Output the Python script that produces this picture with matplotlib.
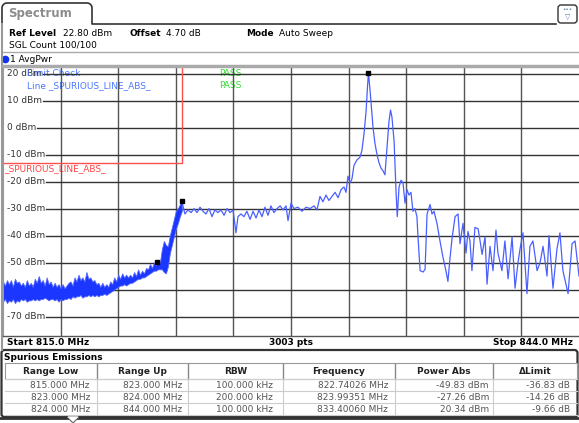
import numpy as np
import matplotlib.pyplot as plt
import matplotlib.transforms as mtransforms
from matplotlib.patches import FancyBboxPatch

# --- data ---
# dense noise part (drawn as a filled band between its lower and upper envelope)
band_f = [815.0, 815.1, 815.2, 815.3, 815.4, 815.5, 815.6, 815.7, 815.8, 815.9,
          816.0, 816.1, 816.2, 816.3, 816.4, 816.5, 816.6, 816.7, 816.8, 816.9,
          817.0, 817.1, 817.2, 817.3, 817.4, 817.5, 817.6, 817.7, 817.8, 817.9,
          818.0, 818.1, 818.2, 818.3, 818.4, 818.5, 818.6, 818.7, 818.8, 818.9,
          819.0, 819.1, 819.2, 819.3, 819.4, 819.5, 819.6, 819.7, 819.8, 819.9,
          820.0, 820.1, 820.2, 820.3, 820.4, 820.5, 820.6, 820.7, 820.8, 820.9,
          821.0, 821.1, 821.2, 821.3, 821.4, 821.5, 821.6, 821.7, 821.8, 821.9,
          822.0, 822.1, 822.2, 822.3, 822.4, 822.5, 822.6, 822.7, 822.8, 822.9,
          823.0, 823.1, 823.2, 823.3, 823.4, 823.5, 823.6, 823.7, 823.8, 823.9, 824.0]
band_hi = [-57, -58.5, -56.5, -58, -56.5, -59, -56, -57.5, -57, -58.5,
           -57.5, -59, -56.5, -58.5, -57.5, -59, -56, -57.5, -55, -57.5,
           -56.5, -58.5, -55.5, -58, -57, -59, -57.5, -59, -58, -59.5,
           -58, -59.5, -58.5, -57.5, -57, -58.5, -55.5, -57, -54.5, -56.5,
           -55.5, -57, -53.5, -56, -55.5, -57, -56.5, -58, -57.5, -59,
           -57.5, -59, -58, -59, -57, -58, -55.5, -57, -54.5, -56,
           -54, -55.5, -54.5, -55.5, -54.5, -55.5, -53.5, -55, -52.5, -54.5,
           -53, -54, -52, -52.5, -50.5, -52, -50, -51, -49, -50,
           -45, -42, -43.5, -44, -40, -37, -34, -31, -30, -28.5, -27.3]
band_lo = [-64.5, -63.5, -65, -64, -64.5, -63.5, -65, -64, -64.5, -63.5,
           -64, -63.5, -64.5, -64, -64, -63.5, -64, -63.5, -64, -63.5,
           -63.5, -63, -63.5, -64, -63.5, -63.5, -64, -63.5, -64.5, -63.5,
           -64, -63.5, -63.5, -63, -63.5, -62.5, -63, -62.5, -62.5, -62,
           -63, -62.5, -62.5, -62, -62.5, -62, -62.5, -62, -62.5, -62,
           -62, -61.5, -62, -61.5, -61, -60.5, -60, -59.5, -59, -58.5,
           -58.5, -58, -58.5, -58, -57.5, -57.5, -57, -56.5, -56, -56,
           -55.5, -55.5, -55, -54.5, -54, -53.5, -53, -53, -52.5, -52.5,
           -52.5, -53.5, -54, -51.5, -46.5, -43.5, -40.5, -37.5, -35.5, -33, -31]

# sparse part of the trace (thin line)
trace_f = [824.01, 824.16, 824.31, 824.47, 824.62, 824.77, 824.92, 825.07, 825.22, 825.37,
           825.52, 825.67, 825.82, 825.98, 826.13, 826.28, 826.43, 826.58, 826.73, 826.83,
           826.98, 827.13, 827.28, 827.44, 827.59, 827.74, 827.89, 828.04, 828.19, 828.34,
           828.49, 828.64, 828.80, 828.95, 829.10, 829.25, 829.35, 829.50, 829.65, 829.85,
           830.05, 830.26, 830.46, 830.66, 830.81, 830.96, 831.11, 831.26, 831.41, 831.56,
           831.72, 831.87, 832.02, 832.17, 832.27, 832.37, 832.47, 832.57, 832.67, 832.82,
           832.97, 833.07, 833.18, 833.28, 833.35, 833.40, 833.50, 833.63, 833.73, 833.83,
           833.93, 834.03, 834.13, 834.23, 834.33, 834.43, 834.51, 834.58, 834.69, 834.79,
           834.85, 834.94, 835.04, 835.14, 835.24, 835.34, 835.44, 835.54, 835.64, 835.74,
           835.84, 835.89, 836.00, 836.15, 836.25, 836.35, 836.50, 836.60, 836.70, 836.85,
           837.00, 837.15, 837.30, 837.40, 837.51, 837.61, 837.76, 837.91, 838.01, 838.16,
           838.31, 838.41, 838.51, 838.61, 838.76, 838.92, 839.02, 839.12, 839.27, 839.37,
           839.52, 839.67, 839.82, 839.92, 840.12, 840.27, 840.43, 840.63, 840.78, 840.93,
           841.03, 841.18, 841.28, 841.38, 841.53, 841.68, 841.89, 842.04, 842.19, 842.39,
           842.49, 842.69, 842.89, 843.04, 843.19, 843.45, 843.65, 843.80, 844.00]
trace_v = [-27.5, -32, -30.5, -31.5, -30, -31.5, -29.5, -31, -32, -30,
           -33, -30.5, -31.5, -30.5, -32.5, -30, -31.5, -30.5, -39, -33,
           -32, -33, -31, -34, -31, -33.5, -30.5, -33, -29.5, -32.5,
           -29, -31.5, -30, -29, -30.5, -29, -34.5, -28, -30, -29.5,
           -31, -29.5, -30, -29, -30.5, -25.5, -27.5, -25, -27, -25.5,
           -24, -26, -23, -22, -24, -18, -20.5, -19, -14, -12,
           -11, -8.5, -2, 6, 15, 20.34, 12, 0, -6, -10,
           -13, -15, -16, -17.5, -8, 2, 6.5, 4, -5, -24,
           -33, -22, -19.5, -20.5, -28, -23, -25, -24, -31, -30,
           -33, -40, -53, -53.5, -52.5, -32, -28.5, -32, -31, -35.5,
           -42, -48, -53, -57, -48, -41, -33, -32, -43, -35.5,
           -46.5, -38.5, -42, -53, -37, -37.5, -42, -47, -40.5, -58,
           -44, -53, -38, -46.5, -53, -42, -56, -40.5, -59.5, -50,
           -45, -39, -50, -61.5, -44, -42, -53, -50, -44, -55,
           -40, -59.5, -45, -39, -53, -61.5, -43, -42, -55]

marker_f = [822.74026, 823.99351, 833.40060]
marker_v = [-49.83, -27.26, 20.34]

limit_f = [815.0, 824.0, 824.0]
limit_v = [-13.0, -13.0, 30.0]

ylevels = [20, 10, 0, -10, -20, -30, -40, -50, -60, -70]

tbl_head = ["Range Low", "Range Up", "RBW", "Frequency", "Power Abs", "ΔLimit"]
tbl_rows = [
    ["815.000 MHz", "823.000 MHz", "100.000 kHz", "822.74026 MHz", "-49.83 dBm", "-36.83 dB"],
    ["823.000 MHz", "824.000 MHz", "200.000 kHz", "823.99351 MHz", "-27.26 dBm", "-14.26 dB"],
    ["824.000 MHz", "844.000 MHz", "100.000 kHz", "833.40060 MHz", "20.34 dBm", "-9.66 dB"],
]

W, H = 579, 423
FS = 6.5
plt.rcParams['font.family'] = 'DejaVu Sans'

fig = plt.figure(figsize=(W / 100, H / 100), dpi=100)
fig.patch.set_facecolor('white')

# pixel-coordinate layer for the screen decoration
deco = fig.add_axes([0, 0, 1, 1])
deco.set_xlim(0, W)
deco.set_ylim(H, 0)
deco.axis('off')
px = deco.transData

# tab "Spectrum"
t = np.linspace(0, np.pi / 2, 10)
tab_x = np.concatenate([[2], 2 + 5 - 5 * np.cos(t), 92 - 5 + 5 * np.sin(t), [92, 556]])
tab_y = np.concatenate([[24], 3 + 5 - 5 * np.sin(t), 3 + 5 - 5 * np.cos(t), [24, 24]])
deco.plot(tab_x, tab_y, color='#333333', lw=1.2)
deco.text(8, 14, "Spectrum", fontsize=8.5, fontweight='bold', color='#8c8c8c', va='center')

# small icon top right
deco.add_patch(FancyBboxPatch((558, 5), 19, 18, boxstyle="round,pad=0,rounding_size=3",
                              fc='white', ec='#333333', lw=1))
deco.text(567.5, 10, "•••", fontsize=4, color='#5577aa', ha='center', va='center')
deco.text(567.5, 17, "▽", fontsize=5, color='#5577aa', ha='center', va='center')

# header info
deco.text(9, 33, "Ref Level", fontsize=FS, fontweight='bold', va='center')
deco.text(63, 33, "22.80 dBm", fontsize=FS, va='center')
deco.text(129, 33, "Offset", fontsize=FS, fontweight='bold', va='center')
deco.text(166, 33, "4.70 dB", fontsize=FS, va='center')
deco.text(246, 33, "Mode", fontsize=FS, fontweight='bold', va='center')
deco.text(279, 33, "Auto Sweep", fontsize=FS, va='center')
deco.text(9, 45, "SGL Count 100/100", fontsize=FS, va='center')
deco.plot([3, 579], [52, 52], color='#aaaaaa', lw=1)
deco.plot([5], [59], 'o', ms=4.5, color='#1133ee')
deco.text(10, 59, "1 AvgPwr", fontsize=FS, va='center')
deco.plot([2, 2], [24, 350], color='#999999', lw=1.5)

# footer of the diagram
deco.text(7, 342.5, "Start 815.0 MHz", fontsize=FS, fontweight='bold', va='center')
deco.text(291, 342.5, "3003 pts", fontsize=FS, fontweight='bold', va='center', ha='center')
deco.text(573, 342.5, "Stop 844.0 MHz", fontsize=FS, fontweight='bold', va='center', ha='right')

# spurious emissions panel
deco.add_patch(FancyBboxPatch((1.5, 350), 576, 67, boxstyle="round,pad=0,rounding_size=3",
                              fc='white', ec='#333333', lw=1.6))
deco.plot([0, 579], [418.5, 418.5], color='#333333', lw=2)
deco.fill([68, 78, 73], [417, 417, 423], color='white', zorder=3)
deco.plot([68, 73, 78], [418, 423, 418], color='#666666', lw=0.8, zorder=4)
deco.text(3.5, 357, "Spurious Emissions", fontsize=FS, fontweight='bold', va='center')

col_edges = [5, 97, 188, 283, 395, 493, 577]
col_right = [90, 182, 273, 388, 489, 570]
row_y = [379, 391, 403, 415]
deco.add_patch(plt.Rectangle((5, 363), 572, 16, fc='white', ec='#999999', lw=0.8))
for x in col_edges[1:-1]:
    deco.plot([x, x], [364, 379], color='#888888', lw=1)
    deco.plot([x, x], [379, 415], color='#cccccc', lw=0.8)
for y in row_y:
    deco.plot([5, 577], [y, y], color='#cccccc', lw=0.8)
for i, h in enumerate(tbl_head):
    deco.text((col_edges[i] + col_edges[i + 1]) / 2, 371.5, h, fontsize=FS, fontweight='bold',
              ha='center', va='center', color='#222222')
for r, row in enumerate(tbl_rows):
    for i, v in enumerate(row):
        deco.text(col_right[i], (row_y[r] + row_y[r + 1]) / 2, v, fontsize=FS,
                  ha='right', va='center', color='#555555')

# --- the diagram itself ---
ax = fig.add_axes([3 / W, 1 - 336 / H, 576 / W, 270 / H])
ax.set_xlim(815, 844)
ax.set_ylim(-77.2, 22.8)
ax.set_xticks([])
ax.set_yticks([])
ax.spines['top'].set_color('#aaaaaa')
ax.spines['top'].set_linewidth(2.5)
ax.spines['left'].set_color('#999999')
ax.spines['left'].set_linewidth(1.5)
ax.spines['right'].set_visible(False)
ax.spines['bottom'].set_color('#555555')
ax.spines['bottom'].set_linewidth(1)

for k in range(1, 10):
    ax.axvline(815 + 2.9 * k, color='#555555', lw=1, zorder=1.8)

lab_tr = mtransforms.blended_transform_factory(px, ax.transData)
labels = []
for lv in ylevels:
    labels.append(ax.text(7, lv, f"{lv} dBm", transform=lab_tr, fontsize=FS,
                          va='center', color='#333333', zorder=1.5))

ax.text(27, 73.5, "Limit Check", transform=px, fontsize=FS, color='#4a78ff', va='center', zorder=1.6)
ax.text(27, 86, "Line _SPURIOUS_LINE_ABS_", transform=px, fontsize=FS, color='#4a78ff', va='center', zorder=1.6)
ax.text(219, 73, "PASS", transform=px, fontsize=FS, color='#33dd33', va='center', zorder=1.6)
ax.text(219, 86, "PASS", transform=px, fontsize=FS, color='#33dd33', va='center', zorder=1.6)
ax.text(4, 168.5, "_SPURIOUS_LINE_ABS_", transform=px, fontsize=FS, color='#ff4444', va='center', zorder=1.6)

ax.plot(limit_f, limit_v, color='#ff5050', lw=1, zorder=2)
ax.fill_between(band_f, band_lo, band_hi, color='#1a36ff', ec='#5468ff', lw=0.6, zorder=2.5)
ax.plot(trace_f, trace_v, color='#4a5fff', lw=0.9, zorder=2.5)
ax.plot(marker_f, marker_v, 's', ms=2.8, color='black', zorder=3)

# horizontal grid lines start right after their labels
fig.canvas.draw()
inv = ax.transData.inverted()
for lv, t_ in zip(ylevels, labels):
    bb = t_.get_window_extent()
    x0 = inv.transform((bb.x1 + 1, 0))[0]
    ax.plot([x0, 844], [lv, lv], color='#333333', lw=1, zorder=1.8)

fig.savefig("out.png", dpi=100)
